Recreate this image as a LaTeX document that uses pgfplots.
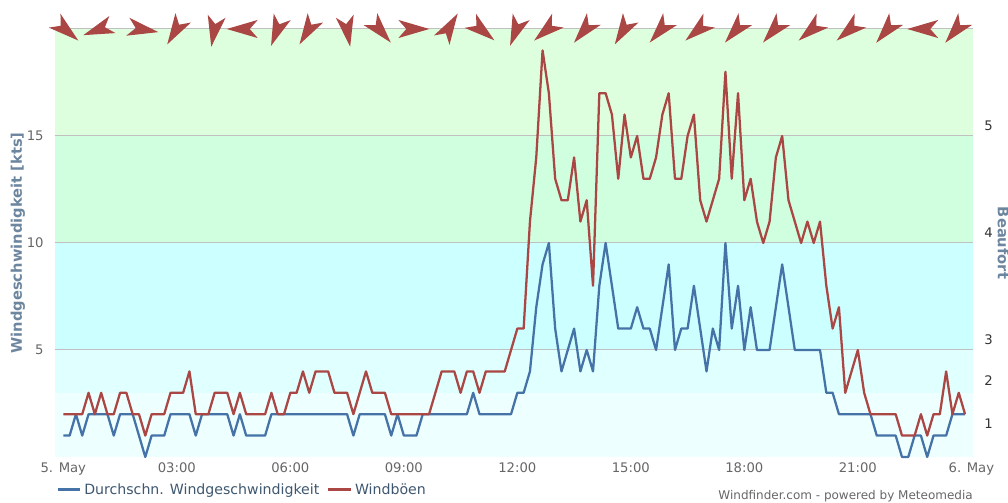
\documentclass[border=0pt]{standalone}
\usepackage{pgfplots}
\usepackage{pgfplotstable}
\usepackage{fontspec}
\setmainfont{DejaVu Sans}
\pgfplotsset{compat=1.18}

\definecolor{bandA}{HTML}{EEFFFF}
\definecolor{bandB}{HTML}{E0FFFF}
\definecolor{bandC}{HTML}{CCFFFF}
\definecolor{bandD}{HTML}{D0FFE0}
\definecolor{bandE}{HTML}{DDFFDD}
\definecolor{avgblue}{HTML}{4572A7}
\definecolor{gustred}{HTML}{AA4643}
\definecolor{gridgrey}{HTML}{C0C0C0}
\definecolor{axisline}{HTML}{C0D0E0}
\definecolor{ticktext}{HTML}{666666}
\definecolor{legendtext}{HTML}{3E576F}
\definecolor{titletext}{HTML}{6D869F}

% wind direction arrow, origin on the anchor, pointing along +x (1px = 0.75pt)
\pgfdeclareplotmark{windarrow}{%
  \pgfpathmoveto{\pgfqpoint{13.5pt}{0pt}}%
  \pgfpathlineto{\pgfqpoint{-9.75pt}{6.8pt}}%
  \pgfpathlineto{\pgfqpoint{-3.75pt}{0pt}}%
  \pgfpathlineto{\pgfqpoint{-9.75pt}{-6.8pt}}%
  \pgfpathclose
  \pgfusepathqfill}
\newcommand{\windarrow}[2]{\addplot[forget plot, only marks, mark=windarrow,
  mark options={rotate=#2, fill=gustred, draw=none}] coordinates {(#1,20)};}
\newcommand{\band}[3]{\addplot[forget plot, draw=none, fill=#3]
  coordinates {(-1.32,#1) (144.26,#1) (144.26,#2) (-1.32,#2)} -- cycle;}
\newcommand{\gridline}[1]{\addplot[forget plot, gridgrey, line width=0.75pt]
  coordinates {(-1.32,#1) (144.26,#1)};}

% 10 minute values in kts
\pgfplotstableread[row sep=\\]{
avg gust \\
1 2 \\ 1 2 \\ 2 2 \\ 1 2 \\ 2 3 \\ 2 2 \\ 2 3 \\ 2 2 \\ 1 2 \\ 2 3 \\ 2 3 \\ 2 2 \\
1 2 \\ 0 1 \\ 1 2 \\ 1 2 \\ 1 2 \\ 2 3 \\ 2 3 \\ 2 3 \\ 2 4 \\ 1 2 \\ 2 2 \\ 2 2 \\
2 3 \\ 2 3 \\ 2 3 \\ 1 2 \\ 2 3 \\ 1 2 \\ 1 2 \\ 1 2 \\ 1 2 \\ 2 3 \\ 2 2 \\ 2 2 \\
2 3 \\ 2 3 \\ 2 4 \\ 2 3 \\ 2 4 \\ 2 4 \\ 2 4 \\ 2 3 \\ 2 3 \\ 2 3 \\ 1 2 \\ 2 3 \\
2 4 \\ 2 3 \\ 2 3 \\ 2 3 \\ 1 2 \\ 2 2 \\ 1 2 \\ 1 2 \\ 1 2 \\ 2 2 \\ 2 2 \\ 2 3 \\
2 4 \\ 2 4 \\ 2 4 \\ 2 3 \\ 2 4 \\ 3 4 \\ 2 3 \\ 2 4 \\ 2 4 \\ 2 4 \\ 2 4 \\ 2 5 \\
3 6 \\ 3 6 \\ 4 11 \\ 7 14 \\ 9 19 \\ 10 17 \\ 6 13 \\ 4 12 \\ 5 12 \\ 6 14 \\ 4 11 \\ 5 12 \\
4 8 \\ 8 17 \\ 10 17 \\ 8 16 \\ 6 13 \\ 6 16 \\ 6 14 \\ 7 15 \\ 6 13 \\ 6 13 \\ 5 14 \\ 7 16 \\
9 17 \\ 5 13 \\ 6 13 \\ 6 15 \\ 8 16 \\ 6 12 \\ 4 11 \\ 6 12 \\ 5 13 \\ 10 18 \\ 6 13 \\ 8 17 \\
5 12 \\ 7 13 \\ 5 11 \\ 5 10 \\ 5 11 \\ 7 14 \\ 9 15 \\ 7 12 \\ 5 11 \\ 5 10 \\ 5 11 \\ 5 10 \\
5 11 \\ 3 8 \\ 3 6 \\ 2 7 \\ 2 3 \\ 2 4 \\ 2 5 \\ 2 3 \\ 2 2 \\ 1 2 \\ 1 2 \\ 1 2 \\
1 2 \\ 0 1 \\ 0 1 \\ 1 1 \\ 1 2 \\ 0 1 \\ 1 2 \\ 1 2 \\ 1 4 \\ 2 2 \\ 2 3 \\ 2 2 \\
}\winddata

\pgfplotsset{every axis/.append style={
  scale only axis, width=688.5pt, height=321pt,
  at={(0,0)}, anchor=south west,
  xmin=-1.32, xmax=144.26, ymin=0, ymax=20,
  /pgf/number format/assume math mode=true}}

\begin{document}
\begin{tikzpicture}
  \useasboundingbox (-41.25pt,-34.5pt) rectangle (714.75pt,342.75pt);
  \begin{axis}[
      clip=false,
      axis y line*=left, axis x line*=bottom,
      y axis line style={draw=none},
      x axis line style={axisline, line width=0.75pt, -},
      xtick={0,18,36,54,72,90,108,126,144},
      xticklabels={5. May,03:00,06:00,09:00,12:00,15:00,18:00,21:00,6. May},
      ytick={5,10,15},
      minor tick num=0,
      xtick style={axisline, line width=0.75pt, yshift=0pt},
      major tick length=3.75pt,
      ytick style={draw=none},
      tick label style={font=\fontsize{9.9}{11}\selectfont, text=ticktext},
      xticklabel style={yshift=-1pt},
      yticklabel style={xshift=-5pt},
      ylabel={Windgeschwindigkeit [kts]},
      ylabel style={font=\fontsize{11}{12}\selectfont\bfseries, text=titletext,
        at={(rel axis cs:0,0.5)}, anchor=south, yshift=19pt},
      legend columns=2,
      legend style={draw=none, fill=none, at={(rel axis cs:0,0)}, anchor=north west,
        xshift=-2pt, yshift=-15.5pt,
        font=\fontsize{10.6}{12}\selectfont, text=legendtext,
        /tikz/every even column/.append style={column sep=4pt}},
      legend cell align=left,
    ]
    \band{0}{3}{bandA}
    \band{3}{5}{bandB}
    \band{5}{10}{bandC}
    \band{10}{15}{bandD}
    \band{15}{20}{bandE}
    \gridline{5}
    \gridline{10}
    \gridline{15}
    \gridline{20}

    \addplot[avgblue, line width=1.7pt, line join=round] table[x expr=\coordindex, y=avg] {\winddata};
    \addlegendentry{Durchschn. Windgeschwindigkeit}
    \addplot[gustred, line width=1.7pt, line join=round] table[x expr=\coordindex, y=gust] {\winddata};
    \addlegendentry{Windböen}

    \windarrow{0.2}{-40}
    \windarrow{5.85}{200}
    \windarrow{12.26}{-10}
    \windarrow{17.95}{-121}
    \windarrow{23.96}{-100}
    \windarrow{28.77}{180}
    \windarrow{33.97}{-111}
    \windarrow{38.92}{-121}
    \windarrow{44.99}{-80}
    \windarrow{50.06}{-49}
    \windarrow{55.19}{0}
    \windarrow{61.07}{59}
    \windarrow{66.14}{-39}
    \windarrow{71.87}{-111}
    \windarrow{76.85}{-140}
    \windarrow{82.81}{-130}
    \windarrow{88.92}{-121}
    \windarrow{94.86}{-131}
    \windarrow{100.84}{-140}
    \windarrow{106.8}{-131}
    \windarrow{112.83}{-131}
    \windarrow{118.8}{-140}
    \windarrow{124.83}{-140}
    \windarrow{130.75}{-130}
    \windarrow{136.69}{180}
    \windarrow{141.7}{-130}

    \node[anchor=south east, font=\fontsize{9}{10}\selectfont, text=ticktext, inner sep=0pt]
      at (rel axis cs:1,0) [yshift=-34pt] {Windfinder.com - powered by Meteomedia};
  \end{axis}
  \begin{axis}[
      axis x line=none,
      axis y line*=right,
      y axis line style={draw=none},
      ytick={1.55,3.55,5.5,10.5,15.5},
      yticklabels={1,2,3,4,5},
      ytick style={draw=none},
      tick label style={font=\fontsize{9.9}{11}\selectfont, text=black!80},
      yticklabel style={xshift=5pt},
      ylabel={Beaufort},
      ylabel style={font=\fontsize{11}{12}\selectfont\bfseries, text=titletext,
        at={(rel axis cs:1,0.5)}, anchor=south, rotate=180, yshift=15pt},
    ]
    \addplot[draw=none, forget plot] coordinates {(0,0) (144,20)};
  \end{axis}
\end{tikzpicture}
\end{document}
